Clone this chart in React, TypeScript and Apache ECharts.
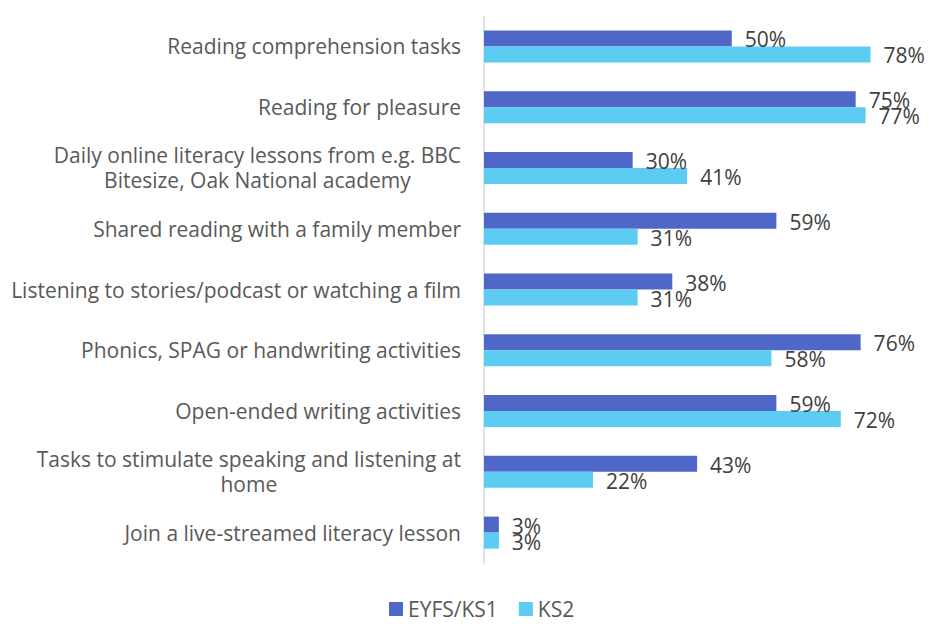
import React, { useEffect, useRef } from "react";
import * as echarts from "echarts";

const categories = [
  "Reading comprehension tasks",
  "Reading for pleasure",
  "Daily online literacy lessons from e.g. BBC\nBitesize, Oak National academy",
  "Shared reading with a family member",
  "Listening to stories/podcast or watching a film",
  "Phonics, SPAG or handwriting activities",
  "Open-ended writing activities",
  "Tasks to stimulate speaking and listening at\nhome",
  "Join a live-streamed literacy lesson",
];
const eyfsKs1 = [50, 75, 30, 59, 38, 76, 59, 43, 3];
const ks2 = [78, 77, 41, 31, 31, 58, 72, 22, 3];
const seriesNames = ["EYFS/KS1", "KS2"];

const FONT = "'Open Sans', 'Noto Sans', sans-serif";

export default function App() {
  const ref = useRef<HTMLDivElement>(null);
  useEffect(() => {
    if (!ref.current) return;
    const chart = echarts.init(ref.current, null, { renderer: "svg" });
    const label = {
      show: true,
      position: "right",
      distance: 13,
      offset: [0, 1],
      formatter: "{c}%",
      color: "#404040",
      fontSize: 21,
      fontFamily: FONT,
    };
    chart.setOption({
      animation: false,
      legend: {
        bottom: 0,
        left: 389,
        padding: [0, 0, 3, 0],
        itemWidth: 14,
        itemHeight: 14,
        itemGap: 21,
        icon: "rect",
        textStyle: {
          color: "#595959",
          fontSize: 21,
          lineHeight: 24,
          fontFamily: FONT,
        },
        data: seriesNames,
      },
      grid: { left: 484, right: 0, top: 16, bottom: 61, containLabel: false },
      xAxis: {
        type: "value",
        min: 0,
        max: 90,
        show: false,
      },
      yAxis: {
        type: "category",
        inverse: true,
        data: categories,
        axisLine: { show: true, lineStyle: { color: "#d9d9d9", width: 1.5 } },
        axisTick: { show: false },
        axisLabel: {
          margin: 23,
          formatter: (v: string) => `{c|${v}}`,
          rich: {
            c: {
              align: "center",
              color: "#595959",
              fontSize: 21,
              fontFamily: FONT,
              lineHeight: 25,
            },
          },
        },
      },
      series: [
        {
          name: seriesNames[0],
          type: "bar",
          data: eyfsKs1,
          barWidth: 16,
          barGap: "0%",
          itemStyle: { color: "#4F68C8" },
          label,
        },
        {
          name: seriesNames[1],
          type: "bar",
          data: ks2,
          barWidth: 16,
          barGap: "0%",
          itemStyle: { color: "#5DCCF2" },
          label,
        },
      ],
    });
    return () => chart.dispose();
  }, []);
  return (
    <div
      ref={ref}
      style={{ position: "absolute", left: 0, top: 0, width: 930, height: 624 }}
    />
  );
}
